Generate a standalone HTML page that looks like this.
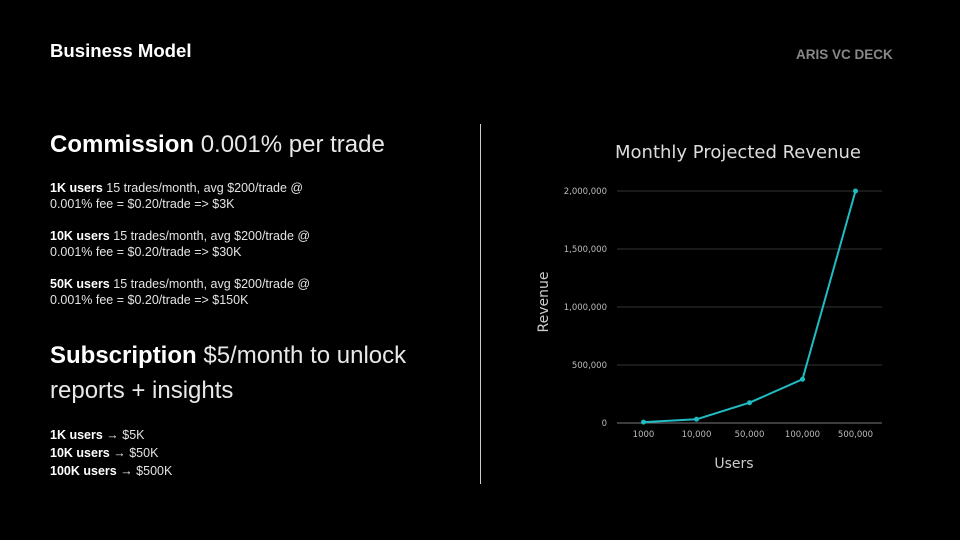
<!DOCTYPE html>
<html><head><meta charset="utf-8"><style>
body{margin:0;width:960px;height:540px;background:#000;overflow:hidden;font-family:"Liberation Sans",sans-serif;color:#fff;position:relative}
.a{position:absolute;margin:0}
.sm{font-size:12.5px;line-height:16px;color:#e4e4e4}
.sm b{font-weight:bold;color:#fff}
.big{font-size:24px;line-height:35px;color:#e8e8e8}
.big b{color:#fff}
</style></head><body>
<div class="a" style="left:50px;top:40px;font-size:18.6px;font-weight:bold">Business Model</div>
<div class="a" style="left:796px;top:47px;font-size:13.5px;font-weight:bold;color:#888">ARIS VC DECK</div>
<div class="a big" style="left:50px;top:127px"><b>Commission</b> 0.001% per trade</div>
<div class="a sm" style="left:50px;top:180px"><b>1K users</b> 15 trades/month, avg $200/trade @<br>0.001% fee = $0.20/trade =&gt; $3K</div>
<div class="a sm" style="left:50px;top:228px"><b>10K users</b> 15 trades/month, avg $200/trade @<br>0.001% fee = $0.20/trade =&gt; $30K</div>
<div class="a sm" style="left:50px;top:276px"><b>50K users</b> 15 trades/month, avg $200/trade @<br>0.001% fee = $0.20/trade =&gt; $150K</div>
<div class="a big" style="left:50px;top:338px"><b>Subscription</b> $5/month to unlock<br>reports + insights</div>
<div class="a sm" style="left:50px;top:426px;line-height:18px"><b>1K users</b> → $5K<br><b>10K users</b> → $50K<br><b>100K users</b> → $500K</div>
<div class="a" style="left:480px;top:124px;width:1px;height:360px;background:#ccc"></div>
<svg class="a" style="left:0;top:0" width="960" height="540">
<text x="738" y="158" text-anchor="middle" fill="#ddd" font-size="18" font-family="DejaVu Sans">Monthly Projected Revenue</text>
<g id="grid"></g><g id="series"></g>
<text x="734" y="468" text-anchor="middle" fill="#ccc" font-size="14" font-family="DejaVu Sans">Users</text>
<text transform="translate(548,302) rotate(-90)" text-anchor="middle" fill="#ccc" font-size="14" font-family="DejaVu Sans">Revenue</text>
</svg>
<script>
const categories=["1000","10,000","50,000","100,000","500,000"];
const revenue=[8000,32000,175000,377000,2000000];
const yTicks=[0,500000,1000000,1500000,2000000];
const yTickLabels=["0","500,000","1,000,000","1,500,000","2,000,000"];
const NS="http://www.w3.org/2000/svg";
const x0=617,x1=882,yb=423,yt=191,yMax=2000000;
const xs=i=>x0+(x1-x0)*(i+0.5)/categories.length;
const ys=v=>yb-(yb-yt)*v/yMax;
const g=document.getElementById('grid'),s=document.getElementById('series');
function mk(t,a,p){const e=document.createElementNS(NS,t);for(const k in a)e.setAttribute(k,a[k]);p.appendChild(e);return e;}
yTicks.forEach((v,i)=>{
 const l=mk('line',{x1:x0,x2:x1,y1:ys(v),y2:ys(v),stroke:v===0?'#777':'#333','stroke-width':1},g);
 
 
 const t=mk('text',{x:607,y:ys(v)+3,'text-anchor':'end',fill:'#bbb','font-size':'8.5','font-family':'DejaVu Sans'},g);
 t.textContent=yTickLabels[i];
 
 
});
categories.forEach((c,i)=>{
 const t=mk('text',{x:xs(i),y:437,'text-anchor':'middle',fill:'#bbb','font-size':'8.5','font-family':'DejaVu Sans'},g);
 t.textContent=c;
 
 
});
const pl=mk('polyline',{points:revenue.map((v,i)=>xs(i)+','+ys(v)).join(' '),fill:'none',stroke:'#1fbcc4','stroke-width':2,'stroke-linejoin':'round'},s);


revenue.forEach((v,i)=>{
 const c=mk('circle',{cx:xs(i),cy:ys(v),r:2.5,fill:'#1fbcc4'},s);
 
 
});
</script>
</body></html>
